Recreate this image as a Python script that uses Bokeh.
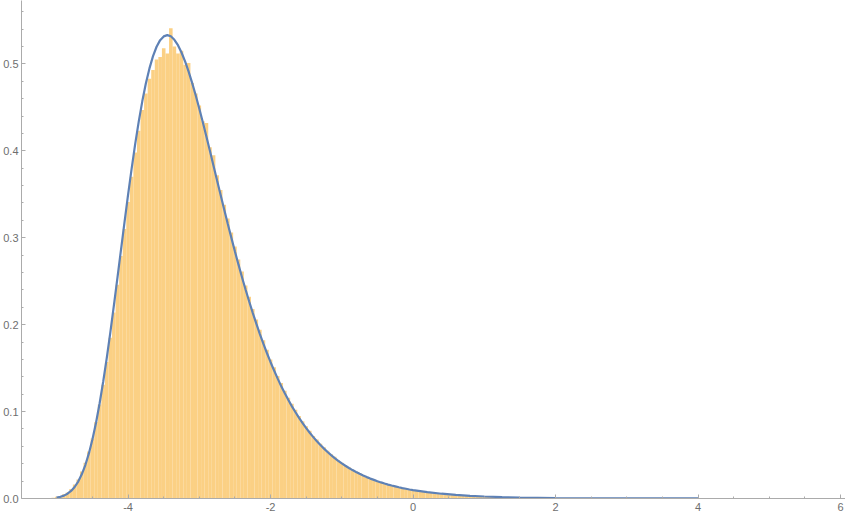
import numpy as np
from bokeh.plotting import figure
from bokeh.models import FixedTicker, Range1d, PrintfTickFormatter, ColumnDataSource
from bokeh.embed import file_html
from bokeh.resources import INLINE

# ---- data ----
bin_width = 0.05
first_bin_center = -5.05
hist_heights = [
    0.001, 0.002, 0.003, 0.005, 0.007, 0.011, 0.016, 0.022, 0.031, 0.041,
    0.054, 0.069, 0.088, 0.108, 0.131, 0.157, 0.185, 0.214, 0.246, 0.279,
    0.310, 0.341, 0.370, 0.398, 0.423, 0.447, 0.466, 0.483, 0.493, 0.505,
    0.508, 0.518, 0.512, 0.541, 0.520, 0.512, 0.515, 0.499, 0.501, 0.478,
    0.466, 0.452, 0.434, 0.432, 0.404, 0.395, 0.372, 0.355, 0.338, 0.322,
    0.306, 0.290, 0.275, 0.261, 0.245, 0.232, 0.218, 0.206, 0.194, 0.182,
    0.171, 0.160, 0.151, 0.141, 0.133, 0.124, 0.116, 0.109, 0.102, 0.095,
    0.089, 0.083, 0.078, 0.072, 0.068, 0.063, 0.059, 0.055, 0.051, 0.048,
    0.044, 0.041, 0.038, 0.036, 0.033, 0.031, 0.029, 0.027, 0.025, 0.023,
    0.022, 0.020, 0.019, 0.017, 0.016, 0.015, 0.014, 0.013, 0.012, 0.011,
    0.010, 0.0095, 0.009, 0.008, 0.0075, 0.007, 0.0065, 0.006, 0.0055, 0.005,
    0.005, 0.0045, 0.004, 0.004, 0.0035, 0.0035, 0.003, 0.003, 0.0028, 0.0026,
    0.0024, 0.0022,
    0.0021, 0.0020, 0.0019, 0.0018, 0.0016, 0.0016, 0.0015, 0.0014, 0.0013, 0.0012,
    0.0011, 0.0011, 0.0010, 0.0009, 0.0009, 0.0008, 0.0008, 0.0007, 0.0007, 0.0006,
]

curve_x = [
    -5.00, -4.95, -4.90, -4.85, -4.80, -4.75, -4.70, -4.65, -4.60, -4.55,
    -4.50, -4.45, -4.40, -4.35, -4.30, -4.25, -4.20, -4.15, -4.10, -4.05,
    -4.00, -3.95, -3.90, -3.85, -3.80, -3.75, -3.70, -3.65, -3.60, -3.55,
    -3.50, -3.45, -3.40, -3.35, -3.30, -3.25, -3.20, -3.15, -3.10, -3.05,
    -3.00, -2.95, -2.90, -2.85, -2.80, -2.75, -2.70, -2.65, -2.60, -2.55,
    -2.50, -2.45, -2.40, -2.35, -2.30, -2.25, -2.20, -2.15, -2.10, -2.05,
    -2.00, -1.95, -1.90, -1.85, -1.80, -1.75, -1.70, -1.65, -1.60, -1.55,
    -1.50, -1.45, -1.40, -1.35, -1.30, -1.25, -1.20, -1.15, -1.10, -1.05,
    -1.00, -0.95, -0.90, -0.85, -0.80, -0.75, -0.70, -0.65, -0.60, -0.55,
    -0.50, -0.45, -0.40, -0.35, -0.30, -0.25, -0.20, -0.15, -0.10, -0.05,
    0.00, 0.20, 0.40, 0.60, 0.80, 1.00, 1.25, 1.50, 2.00, 2.50,
    3.00, 3.50, 4.00,
]
curve_y = [
    0.00108, 0.00194, 0.00333, 0.00548, 0.00868, 0.01323, 0.01949, 0.02778, 0.03851, 0.05183,
    0.06806, 0.0872, 0.1093, 0.1340, 0.1612, 0.1906, 0.2215, 0.2535, 0.2858, 0.3180,
    0.3495, 0.3795, 0.4079, 0.4339, 0.4572, 0.4777, 0.4948, 0.5089, 0.5197, 0.5273,
    0.5316, 0.5331, 0.5317, 0.5277, 0.5215, 0.5131, 0.5028, 0.4910, 0.4778, 0.4636,
    0.4483, 0.4325, 0.4161, 0.3994, 0.3826, 0.3656, 0.3488, 0.3322, 0.3157, 0.2998,
    0.2841, 0.2690, 0.2543, 0.2402, 0.2266, 0.2136, 0.2011, 0.1892, 0.1778, 0.1671,
    0.1568, 0.1472, 0.1379, 0.1292, 0.1210, 0.1133, 0.1060, 0.0992, 0.0927, 0.0866,
    0.0809, 0.0756, 0.0706, 0.0659, 0.0615, 0.0574, 0.0535, 0.0499, 0.0465, 0.0434,
    0.0404, 0.0377, 0.0351, 0.0327, 0.0305, 0.0284, 0.0264, 0.0246, 0.0229, 0.0214,
    0.0199, 0.0185, 0.0172, 0.0160, 0.0149, 0.0139, 0.0129, 0.0120, 0.0112, 0.0104,
    0.0097, 0.0073, 0.0055, 0.0041, 0.0031, 0.0023, 0.0016, 0.0011, 0.00054, 0.00026,
    0.00013, 0.00006, 0.00003,
]

x_major_ticks = [-4, -2, 0, 2, 4, 6]
x_minor_ticks = [-5.0, -4.5, -3.5, -3.0, -2.5, -1.5, -1.0, -0.5, 0.5, 1.0, 1.5,
                 2.5, 3.0, 3.5, 4.5, 5.0, 5.5]
y_major_ticks = [0.0, 0.1, 0.2, 0.3, 0.4, 0.5]
y_minor_ticks = [0.02, 0.04, 0.06, 0.08, 0.12, 0.14, 0.16, 0.18, 0.22, 0.24, 0.26,
                 0.28, 0.32, 0.34, 0.36, 0.38, 0.42, 0.44, 0.46, 0.48, 0.52, 0.54, 0.56]

# ---- build ----
centers = np.round(first_bin_center + bin_width * np.arange(len(hist_heights)), 4)
hist_src = ColumnDataSource(dict(
    left=centers - bin_width / 2,
    right=centers + bin_width / 2,
    top=hist_heights,
    bottom=[0.0] * len(hist_heights),
))

p = figure(width=845, height=516, output_backend="svg", toolbar_location=None,
           x_range=Range1d(-5.496, 6.070), y_range=Range1d(0.0, 0.5729),
           min_border_left=20, min_border_right=0, min_border_top=0,
           min_border_bottom=18)
p.outline_line_color = None
p.xgrid.visible = False
p.ygrid.visible = False
p.background_fill_color = "white"
p.border_fill_color = "white"

p.quad(left="left", right="right", top="top", bottom="bottom", source=hist_src,
       fill_color="#FBD084", line_color=None)
p.line(curve_x, curve_y, line_color="#5E81B5", line_width=2.2)

axis_col = "#ABABAB"
lab_col = "#6E6E6E"
for ax in (p.xaxis[0], p.yaxis[0]):
    ax.axis_line_color = axis_col
    ax.major_tick_line_color = axis_col
    ax.minor_tick_line_color = axis_col
    ax.major_tick_in = 4
    ax.major_tick_out = 0
    ax.minor_tick_in = 2
    ax.minor_tick_out = 0
    ax.major_label_text_color = lab_col
    ax.major_label_text_font = "Liberation Sans"
    ax.major_label_text_font_size = "11px"

p.xaxis[0].ticker = FixedTicker(ticks=x_major_ticks, minor_ticks=x_minor_ticks)
p.xaxis[0].formatter = PrintfTickFormatter(format="%d")
p.xaxis[0].major_label_standoff = 4
p.yaxis[0].ticker = FixedTicker(ticks=y_major_ticks, minor_ticks=y_minor_ticks)
p.yaxis[0].formatter = PrintfTickFormatter(format="%.1f")
p.yaxis[0].major_label_standoff = 3

open("out.html", "w").write(file_html(p, INLINE))
